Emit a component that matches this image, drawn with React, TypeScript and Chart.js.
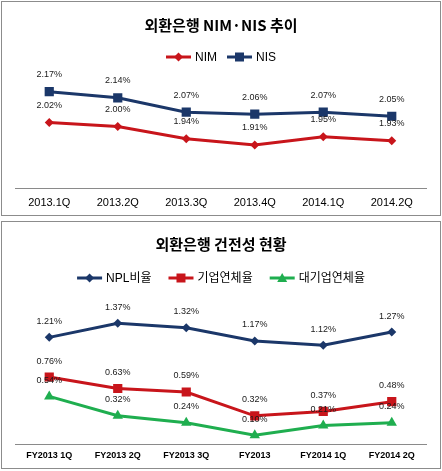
import React, { useEffect, useRef } from "react";
import { Chart, registerables } from "chart.js";

Chart.register(...registerables);

// ---- Data ----
const quarters1 = ["2013.1Q", "2013.2Q", "2013.3Q", "2013.4Q", "2014.1Q", "2014.2Q"];
const nimValues = [2.02, 2.0, 1.94, 1.91, 1.95, 1.93];
const nisValues = [2.17, 2.14, 2.07, 2.06, 2.07, 2.05];

const quarters2 = ["FY2013 1Q", "FY2013 2Q", "FY2013 3Q", "FY2013", "FY2014 1Q", "FY2014 2Q"];
const nplValues = [1.21, 1.37, 1.32, 1.17, 1.12, 1.27];
const corpDelinqValues = [0.76, 0.63, 0.59, 0.32, 0.37, 0.48];
const largeCorpDelinqValues = [0.54, 0.32, 0.24, 0.1, 0.21, 0.24];

const title1 = "외환은행 NIM·NIS 추이";
const title2 = "외환은행 건전성 현황";
const seriesNames1 = ["NIM", "NIS"];
const seriesNames2 = ["NPL비율", "기업연체율", "대기업연체율"];

const RED = "#c8151b";
const NAVY = "#1b3769";
const GREEN = "#1fae4f";

const LATIN = "'Liberation Sans', 'Noto Sans CJK KR', sans-serif";
const KR = "'Noto Sans CJK KR', 'Liberation Sans', sans-serif";

type LegendItem = { text: string; color: string; shape: string };

function drawMarker(ctx: CanvasRenderingContext2D, shape: string, x: number, y: number, color: string) {
  ctx.save();
  ctx.fillStyle = color;
  ctx.beginPath();
  if (shape === "rect") {
    ctx.rect(x - 4.5, y - 4.5, 9, 9);
  } else if (shape === "rectRot") {
    ctx.moveTo(x, y - 4.5);
    ctx.lineTo(x + 4.5, y);
    ctx.lineTo(x, y + 4.5);
    ctx.lineTo(x - 4.5, y);
    ctx.closePath();
  } else {
    ctx.moveTo(x, y - 5);
    ctx.lineTo(x + 5, y + 4);
    ctx.lineTo(x - 5, y + 4);
    ctx.closePath();
  }
  ctx.fill();
  ctx.restore();
}

function makeDecorPlugin(cfg: {
  title: string;
  titleY: number;
  legendY: number;
  legend: LegendItem[];
  itemGap: number;
  labelOffset: number;
}) {
  return {
    id: "decor",
    afterDatasetsDraw(chart: any) {
      const ctx: CanvasRenderingContext2D = chart.ctx;
      ctx.save();
      ctx.font = `9px ${LATIN}`;
      ctx.fillStyle = "#1a1a1a";
      ctx.textAlign = "center";
      ctx.textBaseline = "middle";
      chart.data.datasets.forEach((ds: any, i: number) => {
        const meta = chart.getDatasetMeta(i);
        meta.data.forEach((pt: any, j: number) => {
          const v = ds.data[j] as number;
          ctx.fillText(v.toFixed(2) + "%", pt.x, pt.y - cfg.labelOffset);
        });
      });
      ctx.restore();
    },
    afterDraw(chart: any) {
      const ctx: CanvasRenderingContext2D = chart.ctx;
      const w = chart.width;
      ctx.save();
      // title
      ctx.font = `bold 15px ${KR}`;
      ctx.fillStyle = "#000";
      ctx.textAlign = "center";
      ctx.textBaseline = "middle";
      ctx.fillText(cfg.title, w / 2, cfg.titleY);
      // legend
      ctx.font = `12px ${LATIN}`;
      const lineLen = 25;
      const textGap = 4;
      const widths = cfg.legend.map((it) => lineLen + textGap + ctx.measureText(it.text).width);
      const total = widths.reduce((a, b) => a + b, 0) + cfg.itemGap * (cfg.legend.length - 1);
      let x = w / 2 - total / 2;
      const y = cfg.legendY;
      cfg.legend.forEach((it, k) => {
        ctx.strokeStyle = it.color;
        ctx.lineWidth = 3;
        ctx.beginPath();
        ctx.moveTo(x, y);
        ctx.lineTo(x + lineLen, y);
        ctx.stroke();
        drawMarker(ctx, it.shape, x + lineLen / 2, y, it.color);
        ctx.fillStyle = "#000";
        ctx.textAlign = "left";
        ctx.fillText(it.text, x + lineLen + textGap, y + 0.5);
        x += widths[k] + cfg.itemGap;
      });
      ctx.restore();
    },
  };
}

function ChartBox(props: {
  top: number;
  height: number;
  build: (canvas: HTMLCanvasElement) => Chart;
}) {
  const ref = useRef<HTMLCanvasElement | null>(null);
  useEffect(() => {
    if (!ref.current) return;
    const chart = props.build(ref.current);
    return () => chart.destroy();
  }, []);
  return (
    <div
      style={{
        position: "absolute",
        left: 1,
        top: props.top,
        width: 438,
        height: props.height,
        border: "1px solid #8c8c8c",
        background: "#fff",
      }}
    >
      <canvas ref={ref} width={438} height={props.height} style={{ display: "block", width: 438, height: props.height }} />
    </div>
  );
}

function buildChart1(canvas: HTMLCanvasElement) {
  return new Chart(canvas, {
    type: "line",
    data: {
      labels: quarters1,
      datasets: [
        {
          label: seriesNames1[0],
          data: nimValues,
          borderColor: RED,
          backgroundColor: RED,
          borderWidth: 3,
          pointStyle: "rectRot",
          pointRadius: 4.5,
          pointBorderWidth: 0,
          tension: 0,
        },
        {
          label: seriesNames1[1],
          data: nisValues,
          borderColor: NAVY,
          backgroundColor: NAVY,
          borderWidth: 3,
          pointStyle: "rect",
          pointRadius: 6.5,
          pointBorderWidth: 0,
          tension: 0,
        },
      ],
    },
    options: {
      responsive: false,
      animation: false,
      devicePixelRatio: 1,
      layout: { padding: { left: 13, right: 14, top: 83.5, bottom: 0 } },
      plugins: { legend: { display: false }, title: { display: false }, tooltip: { enabled: false } },
      scales: {
        x: {
          offset: true,
          grid: { display: false, drawTicks: false },
          border: { display: true, color: "#8a8a8a", width: 1 },
          ticks: { color: "#000", font: { family: LATIN, size: 11 }, padding: 8, maxRotation: 0, autoSkip: false },
          afterFit: (s: any) => {
            s.height = 27;
            s.paddingLeft = 0;
            s.paddingRight = 0;
          },
        },
        y: { display: false, min: 1.7, max: 2.2 },
      },
    } as any,
    plugins: [
      makeDecorPlugin({
        title: title1,
        titleY: 23,
        legendY: 55,
        itemGap: 10,
        labelOffset: 17,
        legend: [
          { text: seriesNames1[0], color: RED, shape: "rectRot" },
          { text: seriesNames1[1], color: NAVY, shape: "rect" },
        ],
      }),
    ],
  });
}

function buildChart2(canvas: HTMLCanvasElement) {
  return new Chart(canvas, {
    type: "line",
    data: {
      labels: quarters2,
      datasets: [
        {
          label: seriesNames2[0],
          data: nplValues,
          borderColor: NAVY,
          backgroundColor: NAVY,
          borderWidth: 3,
          pointStyle: "rectRot",
          pointRadius: 4.5,
          pointBorderWidth: 0,
          tension: 0,
        },
        {
          label: seriesNames2[1],
          data: corpDelinqValues,
          borderColor: RED,
          backgroundColor: RED,
          borderWidth: 3,
          pointStyle: "rect",
          pointRadius: 6.5,
          pointBorderWidth: 0,
          tension: 0,
        },
        {
          label: seriesNames2[2],
          data: largeCorpDelinqValues,
          borderColor: GREEN,
          backgroundColor: GREEN,
          borderWidth: 3,
          pointStyle: "triangle",
          pointRadius: 6,
          pointBorderWidth: 0,
          tension: 0,
        },
      ],
    },
    options: {
      responsive: false,
      animation: false,
      devicePixelRatio: 1,
      layout: { padding: { left: 13, right: 14, top: 81, bottom: 0 } },
      plugins: { legend: { display: false }, title: { display: false }, tooltip: { enabled: false } },
      scales: {
        x: {
          offset: true,
          grid: { display: false, drawTicks: false },
          border: { display: true, color: "#8a8a8a", width: 1 },
          ticks: { color: "#000", font: { family: LATIN, size: 9, weight: "bold" }, padding: 6, maxRotation: 0, autoSkip: false },
          afterFit: (s: any) => {
            s.height = 24;
            s.paddingLeft = 0;
            s.paddingRight = 0;
          },
        },
        y: { display: false, min: 0, max: 1.6 },
      },
    } as any,
    plugins: [
      makeDecorPlugin({
        title: title2,
        titleY: 22,
        legendY: 56,
        itemGap: 17,
        labelOffset: 16,
        legend: [
          { text: seriesNames2[0], color: NAVY, shape: "rectRot" },
          { text: seriesNames2[1], color: RED, shape: "rect" },
          { text: seriesNames2[2], color: GREEN, shape: "triangle" },
        ],
      }),
    ],
  });
}

export default function App() {
  return (
    <div style={{ position: "absolute", left: 0, top: 0, width: 442, height: 471, background: "#fff" }}>
      <ChartBox top={1} height={213} build={buildChart1} />
      <ChartBox top={221} height={246} build={buildChart2} />
    </div>
  );
}
